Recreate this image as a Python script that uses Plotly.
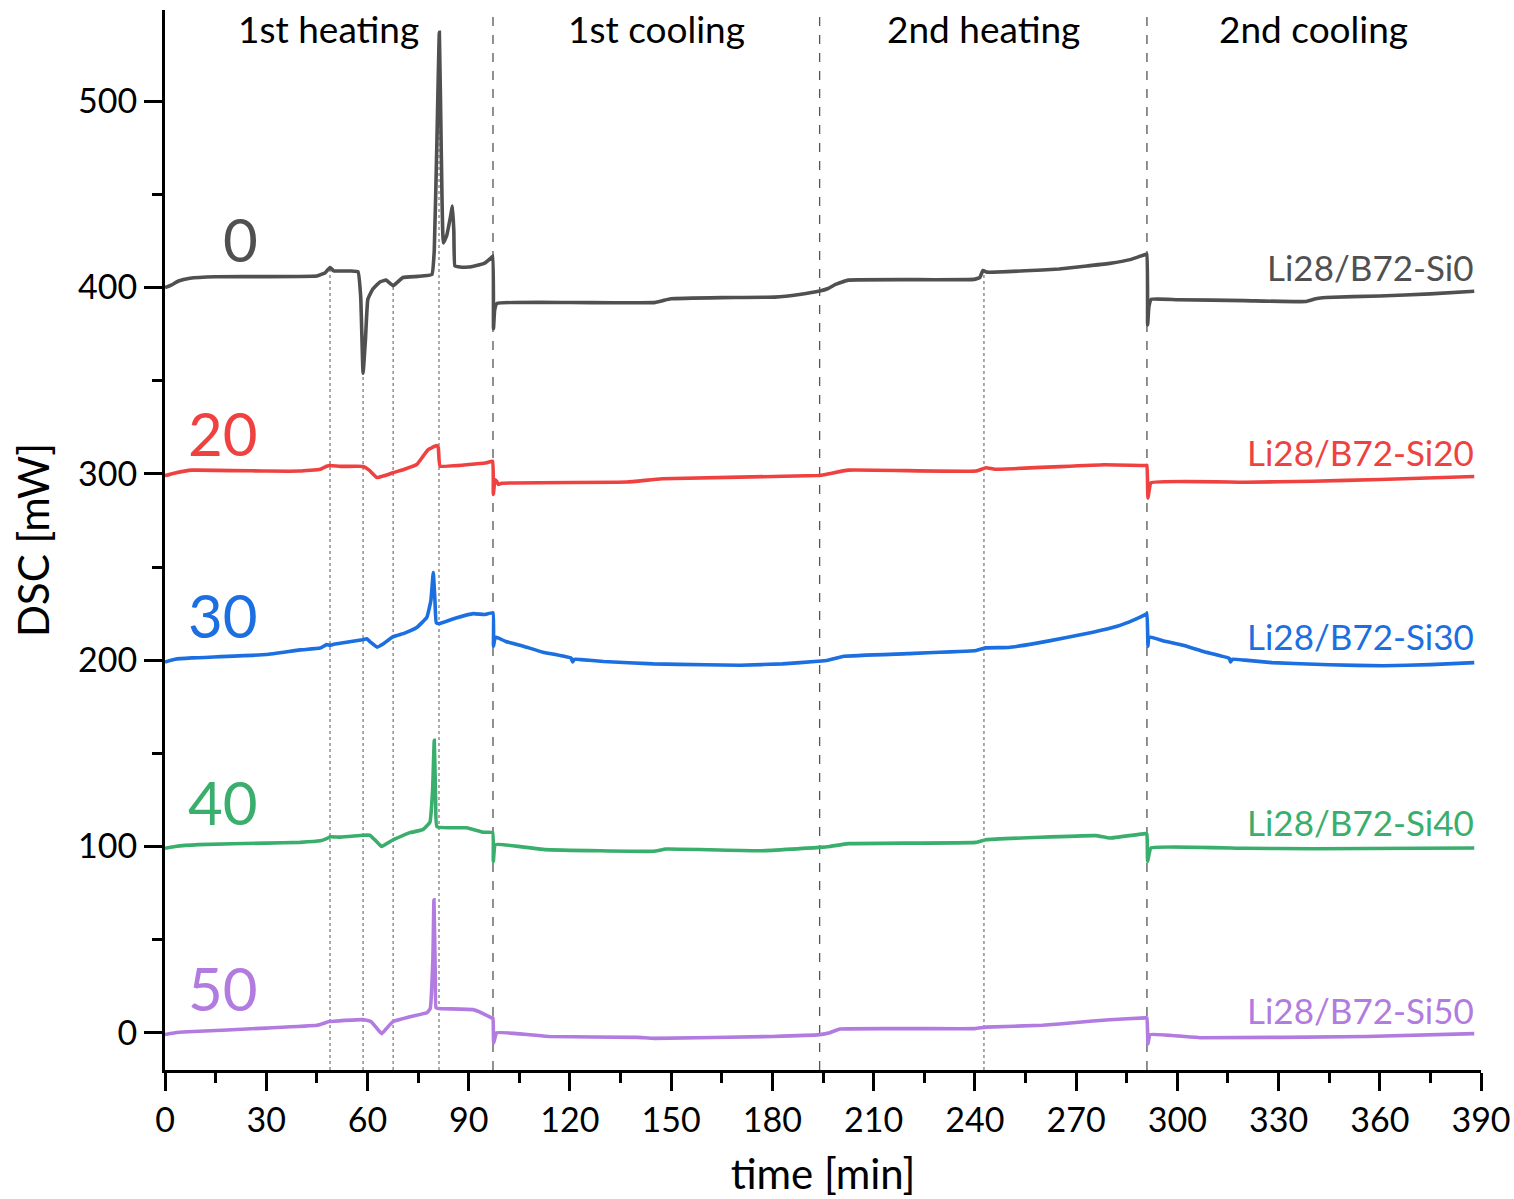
import plotly.graph_objects as go
import numpy as np

# ---------------- data ----------------
t_si0 = [0, 2, 4, 7.4, 15, 45, 47.5, 48.9, 50, 54.8, 57.2, 58.0, 58.7, 59.4, 60.1, 61.5, 63.7, 65.5, 67.6, 70.5, 75, 79.1, 79.8, 80.6, 81.3, 81.9, 82.5, 83.5, 84.6, 85.2, 85.6, 85.9, 86.9, 90, 94.6, 96.8, 97.2, 97.35, 97.7, 98.4, 120, 144.7, 147.5, 149.9, 165, 180.7, 188, 194, 196.5, 198.7, 202.5, 239.8, 241.5, 242.4, 243.6, 255, 265, 273.2, 280, 286, 290.5, 291.0, 291.2, 291.6, 292.3, 300, 320, 338, 341, 344, 360, 375, 388]
v_si0 = [400, 401.5, 403.5, 405, 405.8, 406.2, 408, 410.8, 409, 408.9, 408.5, 395, 354, 372, 393.6, 399, 403, 404, 401, 405.4, 406, 407, 420, 480, 537, 470, 424, 428, 438, 443.8, 430, 411.6, 411.2, 411, 413, 416.2, 417, 378, 388, 391.5, 392, 391.9, 393, 394, 394.6, 394.9, 396.3, 398.1, 399.5, 401.7, 404, 404.4, 405.5, 409.2, 408.3, 409, 410, 411.6, 413, 415, 417.8, 418, 380, 390, 393.7, 393.5, 393, 392.5, 394, 394.7, 395.5, 396.6, 398]

t_si20 = [0, 3, 8, 30, 40, 46, 47.9, 49, 52, 58.7, 60.5, 62.8, 65, 67.6, 71, 74.6, 76.5, 78, 80.5, 81.0, 81.5, 90, 95.3, 97.1, 97.3, 97.8, 98.3, 98.8, 99.8, 136.9, 147.3, 193.5, 196.5, 202.5, 240.4, 243.3, 246, 278.3, 290.5, 291.0, 291.3, 292.2, 320, 340, 360, 388]
v_si20 = [299, 300.5, 302, 301.5, 301.5, 302.5, 304.1, 304.5, 304, 304, 302, 298, 299, 300.6, 302.5, 305, 309.5, 313, 315.2, 314, 304.2, 305, 306, 306.8, 289, 297, 296, 294.3, 295, 295.6, 297.4, 299.1, 300, 302, 301.5, 303.3, 302.5, 304.9, 304.5, 304.6, 287, 295.2, 295.5, 296, 297, 298.6]

t_si30 = [0, 3, 8, 30, 40, 46, 47.9, 48.9, 50, 58.5, 59.8, 61, 62.9, 64.5, 67.6, 71, 74.6, 77.6, 78.8, 79.5, 80.0, 80.4, 81.5, 86, 91.4, 94.6, 97.2, 97.35, 97.9, 101, 106.2, 112, 120.3, 120.8, 121.3, 123.2, 130, 144.7, 160, 170.4, 183, 193.5, 196.5, 201.2, 220, 240.4, 243.3, 250, 258, 266.8, 275, 282.2, 287, 290.5, 291.0, 291.3, 291.6, 296, 301.7, 308, 315.4, 315.8, 316.3, 320, 328, 345, 361, 375, 388]
v_si30 = [199, 200.5, 201.2, 203, 205.5, 206.5, 208.4, 208, 208.5, 211, 211.5, 209.5, 207, 208.5, 212.6, 214.5, 217.5, 223, 232, 247, 232, 220, 219.7, 222.5, 225, 224.5, 225.4, 207.5, 212.5, 210, 207.5, 204.3, 201.2, 199, 200.5, 200.3, 199.3, 198, 197.5, 197.3, 198, 199.4, 200, 202.1, 203.5, 205.2, 206.6, 206.8, 209, 212, 215, 218.2, 221.5, 224.5, 225, 207.5, 212.5, 210.3, 208, 204.5, 201, 199, 200.5, 200, 198.7, 197.5, 197, 197.6, 198.7]

t_si40 = [0, 3, 10, 30, 40, 46, 47.9, 49, 52, 58.7, 60.7, 62.5, 64.2, 67.6, 72.6, 76.4, 78.5, 79.3, 79.8, 80.2, 80.6, 89.4, 94.3, 97.1, 97.3, 97.9, 112.6, 144.7, 148.5, 176.9, 194, 197, 202.5, 240.4, 243.3, 275.8, 280, 290.5, 291.0, 291.2, 292.2, 320, 340, 388]
v_si40 = [99, 100, 101, 101.8, 102.2, 103, 104.2, 105.2, 105, 106, 106, 103, 100, 103.6, 107.4, 109, 113, 130, 157, 125, 110.6, 110, 107.6, 107.5, 92, 101, 98.3, 97.4, 98.6, 97.7, 99.5, 100, 101.5, 102.2, 103.6, 105.8, 104.5, 106.9, 106.5, 92, 99.2, 99, 98.8, 99.2]

t_si50 = [0, 3, 6.8, 30, 45, 48.7, 50, 59, 61, 62.5, 64.2, 65.5, 67.6, 72.6, 77.6, 78.6, 79.4, 79.7, 80.1, 80.3, 81, 91.3, 93.8, 96.8, 97.2, 97.4, 98.3, 114, 140, 145, 180, 194, 197, 200, 240, 243.3, 260, 270, 280, 290.5, 291.0, 291.3, 291.9, 306.7, 356, 388]
v_si50 = [-1, 0, 0.5, 2.5, 4, 6, 6.2, 7, 6, 3, -0.5, 2, 6, 8.6, 10.7, 13, 40, 71.4, 30, 13.4, 13, 12.4, 10.7, 8, 8, -5.4, 0, -2, -2.5, -3, -2, -1, 0, 2, 2.2, 3, 4, 5.5, 7, 8, 8, -6, -1, -2.7, -2, -0.5]

series_names = ["Li28/B72-Si0", "Li28/B72-Si20", "Li28/B72-Si30", "Li28/B72-Si40", "Li28/B72-Si50"]
series_short = ["0", "20", "30", "40", "50"]
series_t = [t_si0, t_si20, t_si30, t_si40, t_si50]
series_v = [v_si0, v_si20, v_si30, v_si40, v_si50]
series_colors = ["#505050", "#F04141", "#1C6FE0", "#3AAE6C", "#B27BDF"]
number_label_y = [426, 322, 224.5, 124, 24]
name_label_y = [411, 312, 213, 113, 12.4]

phase_names = ["1st heating", "1st cooling", "2nd heating", "2nd cooling"]
phase_bounds = [0, 97.2, 194, 291, 390]
event_times = [48.9, 58.7, 67.6, 81.2, 242.7]

x_ticks = list(range(0, 391, 30))
y_ticks = [0, 100, 200, 300, 400, 500]
x_range = [0, 390]
y_range = [-20, 549]

FONT = "Lato"

fig = go.Figure()
for t, v, c, n in zip(series_t, series_v, series_colors, series_names):
    fig.add_trace(go.Scatter(x=t, y=v, mode="lines", name=n,
                             line=dict(color=c, width=3.6, shape="spline", smoothing=0.3),
                             showlegend=False))

shapes = []
for b in phase_bounds[1:-1]:
    shapes.append(dict(type="line", xref="x", yref="paper", x0=b, x1=b, y0=0, y1=1,
                       line=dict(color="#555555", width=1.3, dash="dash"), layer="below"))
for e in event_times:
    top = float(np.interp(e, t_si0, v_si0))
    shapes.append(dict(type="line", xref="x", yref="y", x0=e, x1=e, y0=y_range[0], y1=top,
                       line=dict(color="#555555", width=1, dash="dot"), layer="below"))

annotations = []
for i, p in enumerate(phase_names):
    mid = (phase_bounds[i] + phase_bounds[i + 1]) / 2
    annotations.append(dict(x=mid, y=539, xref="x", yref="y", text=p, showarrow=False,
                            xanchor="center", yanchor="middle",
                            font=dict(family=FONT, size=37, color="black")))
for s, yv, c in zip(series_short, number_label_y, series_colors):
    annotations.append(dict(x=28.3, y=yv, xref="x", yref="y", text=s, showarrow=False,
                            xanchor="right", yanchor="middle",
                            font=dict(family=FONT, size=60, color=c)))
for n, yv, c in zip(series_names, name_label_y, series_colors):
    annotations.append(dict(x=388.6, y=yv, xref="x", yref="y", text=n, showarrow=False,
                            xanchor="right", yanchor="middle",
                            font=dict(family=FONT, size=35, color=c)))

axis_common = dict(showgrid=False, zeroline=False, showline=True, linecolor="black", linewidth=3,
                   ticks="outside", ticklen=18, tickwidth=3, tickcolor="black",
                   tickfont=dict(family=FONT, size=34, color="black"), mirror=False)

fig.update_layout(
    width=1514, height=1199,
    margin=dict(l=165, r=33, t=10, b=129, autoexpand=False),
    paper_bgcolor="white", plot_bgcolor="white",
    shapes=shapes, annotations=annotations,
    xaxis=dict(range=x_range, tickvals=x_ticks, **axis_common,
               minor=dict(dtick=15, tick0=0, ticks="outside", ticklen=10, tickwidth=3, tickcolor="black"),
               title=dict(text="time [min]", font=dict(family=FONT, size=42, color="black"), standoff=22)),
    yaxis=dict(range=y_range, tickvals=y_ticks, **axis_common,
               minor=dict(dtick=50, tick0=0, ticks="outside", ticklen=10, tickwidth=3, tickcolor="black"),
               title=dict(text="DSC [mW]", font=dict(family=FONT, size=42, color="black"), standoff=16)),
)

fig.write_html("out.html")
